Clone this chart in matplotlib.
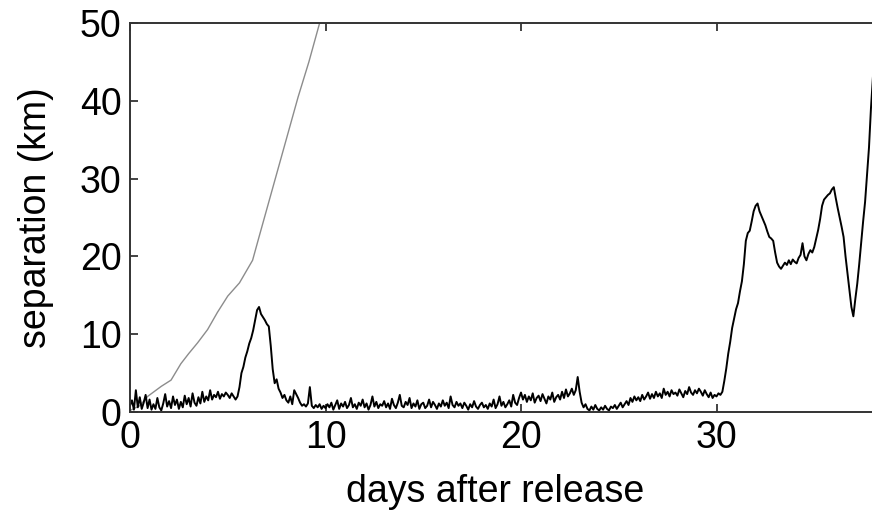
import matplotlib
matplotlib.use("Agg")
import matplotlib.pyplot as plt

plt.rcParams['font.family'] = ['Liberation Sans', 'DejaVu Sans']

# Black series: separation (km), sampled every 0.1 day from day 0.0
sep_black = [
    # day 0
    0.8, 1.5, 0.3, 2.8, 0.6, 1.9, 0.4, 1.2, 2.2, 0.5,
    # day 1
    1.6, 0.3, 1.0, 0.4, 1.8, 0.6, 0.2, 1.1, 2.3, 0.7,
    # day 2
    1.4, 0.5, 2.0, 0.9, 1.6, 0.4, 1.3, 0.6, 2.1, 1.0,
    # day 3
    1.8, 0.7, 2.4, 1.2, 0.8, 1.9, 1.1, 2.6, 1.3, 2.0,
    # day 4
    1.5, 2.8, 1.6, 2.2, 1.9, 2.6, 1.7, 2.3, 2.0, 2.5,
    # day 5
    2.2, 1.8, 2.4, 2.0, 1.6, 2.0, 3.2, 5.0, 5.8, 7.0,
    # day 6
    7.8, 8.8, 9.5, 10.5, 11.8, 13.1, 13.5, 12.6, 12.2, 11.8,
    # day 7
    11.3, 11.0, 8.5, 5.5, 3.7, 4.2, 3.0, 2.5, 1.8, 2.2,
    # day 8
    1.5, 1.2, 2.0, 1.0, 2.8, 2.3, 1.8, 1.2, 0.8, 1.0,
    # day 9
    0.7, 1.1, 3.2, 0.8, 0.5, 0.9, 0.6, 1.0, 0.4, 0.8,
    # day 10
    0.5, 1.0, 0.6, 1.2, 0.3, 0.9, 1.5, 0.4, 1.1, 0.7,
    # day 11
    1.3, 0.5, 0.9, 1.8, 0.6, 1.0, 0.4, 1.2, 0.8, 1.6,
    # day 12
    0.6, 1.1, 0.3, 0.9, 2.0, 0.7, 1.3, 0.5, 1.0, 0.8,
    # day 13
    1.4, 0.6, 1.1, 0.4, 1.7, 0.9, 0.5, 1.2, 2.2, 0.8,
    # day 14
    0.6, 1.3, 0.9, 1.8, 0.5, 1.1, 0.7, 1.5, 0.4, 1.0,
    # day 15
    1.2, 0.5, 0.8, 1.6, 0.6, 1.3, 0.9, 0.4, 1.1, 0.7,
    # day 16
    1.5, 0.8, 1.2, 0.5, 2.0, 0.9, 0.6, 1.3, 0.8, 1.1,
    # day 17
    0.5, 1.2, 0.8, 0.3, 1.0, 0.6, 1.4, 0.7, 0.4, 0.9,
    # day 18
    1.2, 0.6, 0.9, 0.4, 1.1, 0.7, 1.6, 0.5, 1.0, 2.0,
    # day 19
    0.8, 1.3, 0.6, 1.0, 1.5, 0.7, 2.2, 1.2, 0.9, 1.8,
    # day 20
    2.5, 1.6, 2.2, 1.3, 2.0, 1.5, 2.4, 1.2, 1.8, 2.1,
    # day 21
    1.4, 2.3, 1.7, 1.1, 2.0, 1.6, 2.5, 1.3, 1.9, 2.2,
    # day 22
    1.6, 2.6, 1.8, 2.9, 2.0, 2.4, 3.0, 2.2, 2.8, 4.5,
    # day 23
    2.6, 1.2, 0.6, 1.0, 0.4, 0.2, 0.7, 0.3, 0.9, 0.4,
    # day 24
    0.2, 0.6, 0.3, 0.8, 0.4, 0.2, 0.7, 0.5, 0.9, 0.4,
    # day 25
    0.8, 1.2, 0.6, 1.0, 1.4, 0.9, 1.8, 1.3, 2.0, 1.5,
    # day 26
    1.9, 1.4, 2.2, 1.6, 2.0, 2.5, 1.7, 2.3, 1.8, 2.6,
    # day 27
    2.0, 2.4, 1.8, 3.0, 2.2, 2.6, 2.0, 2.8, 2.3, 2.5,
    # day 28
    2.1, 2.9, 2.4, 1.9, 2.7, 2.3, 3.2, 2.5, 2.2, 2.8,
    # day 29
    2.4, 3.0, 2.6, 2.1, 2.8, 2.3, 1.9, 2.5, 1.8, 2.2,
    # day 30
    2.0, 2.4, 2.2, 2.6, 4.0, 5.6, 7.5, 9.0, 10.8, 12.0,
    # day 31
    13.2, 14.0, 15.5, 16.8, 19.0, 22.0, 23.0, 23.3, 24.5, 25.8,
    # day 32
    26.5, 26.8, 25.8, 25.2, 24.6, 24.0, 23.2, 22.5, 22.3, 22.0,
    # day 33
    20.5, 19.2, 18.7, 18.4, 18.8, 19.2, 18.9, 19.5, 19.0, 19.6,
    # day 34
    19.3, 19.1, 19.8, 20.2, 21.7, 20.0, 19.5, 20.3, 20.8, 20.5,
    # day 35
    21.2, 22.3, 23.4, 24.8, 26.5, 27.3, 27.6, 27.9, 28.1, 28.6,
    # day 36
    28.9, 27.5, 26.2, 25.0, 23.8, 22.5, 20.0, 17.8, 15.5, 13.5,
    # day 37
    12.3, 14.5, 16.5, 19.0, 21.8, 24.5, 27.0, 30.5, 34.0, 39.0,
    # day 38
    43.0,
]
days_black = [round(0.1 * i, 1) for i in range(len(sep_black))]

# Gray series
days_gray = [0.0, 0.5, 0.9, 1.6, 2.1, 2.6, 3.0, 3.46, 3.97, 4.47, 5.0, 5.6,
             6.27, 6.6, 7.1, 7.6, 8.1, 8.6, 9.15, 9.7, 10.2]
sep_gray = [0.2, 0.8, 2.0, 3.3, 4.1, 6.2, 7.5, 8.9, 10.6, 12.8, 14.9, 16.6,
            19.5, 22.5, 27.0, 31.5, 36.0, 40.5, 45.0, 50.0, 55.0]

xticks = [0, 10, 20, 30]
yticks = [0, 10, 20, 30, 40, 50]

W, H = 872, 515
fig = plt.figure(figsize=(W / 100, H / 100), dpi=100)
x0, x1 = 130, 130 + 19.55 * 40
y0, y1 = 412, 23
ax = fig.add_axes([x0 / W, 1 - y0 / H, (x1 - x0) / W, (y0 - y1) / H])

ax.plot(days_gray, sep_gray, color='#8c8c8c', lw=1.0)
ax.plot(days_black, sep_black, color='black', lw=1.4)

ax.set_xlim(0, 40)
ax.set_ylim(0, 50)
ax.set_xticks(xticks)
ax.set_yticks(yticks)
ax.tick_params(direction='in', length=6, width=1.2, labelsize=27, color='#222222',
               top=True, right=True, pad=6)
for s in ax.spines.values():
    s.set_linewidth(1.4)
    s.set_color('#333333')

ax.set_xlabel('days after release', fontsize=27, labelpad=2)
ax.set_ylabel('separation (km)', fontsize=27, labelpad=19)
ax.xaxis.set_label_coords((495 - x0) / (x1 - x0), -0.16)

fig.savefig('out.png', dpi=100)
